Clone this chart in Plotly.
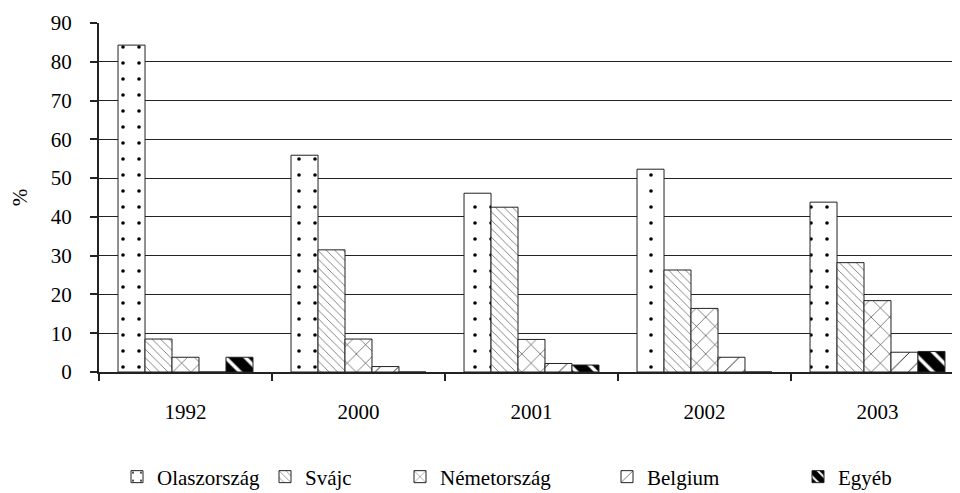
import plotly.graph_objects as go

years = ["1992", "2000", "2001", "2002", "2003"]
olasz = [84.3, 55.9, 46.1, 52.3, 43.8]
svajc = [8.5, 31.5, 42.5, 26.3, 28.2]
nemet = [3.8, 8.5, 8.4, 16.4, 18.4]
belgium = [0, 1.4, 2.2, 3.8, 5.1]
egyeb = [3.8, 0, 1.8, 0, 5.3]

series = [
    ("Olaszország", olasz, dict(shape=".", size=16, solidity=0.04, fgcolor="#000", bgcolor="white", fgopacity=1)),
    ("Svájc", svajc, dict(shape="\\", size=6, solidity=0.1, fgcolor="#333", bgcolor="white", fgopacity=1)),
    ("Németország", nemet, dict(shape="x", size=13, solidity=0.08, fgcolor="#111", bgcolor="white", fgopacity=1)),
    ("Belgium", belgium, dict(shape="/", size=13, solidity=0.07, fgcolor="#111", bgcolor="white", fgopacity=1)),
    ("Egyéb", egyeb, dict(shape="\\", size=14, solidity=0.75, fgcolor="#000", bgcolor="white", fgopacity=1)),
]
# legend left edges in page pixels
legend_x_px = [117, 265, 400, 607, 798]

OFF = 8  # page body margin
W, H = 960 - OFF, 493 - OFF
FONT = "Liberation Serif"
fig = go.Figure()
for i, (name, vals, pat) in enumerate(series):
    fig.add_trace(go.Bar(
        x=years, y=vals, name=name,
        marker=dict(color="white", pattern=pat, line=dict(color="#222", width=1)),
        legend="legend" if i == 0 else f"legend{i+1}",
    ))

legend_common = dict(orientation="h", xref="container", yref="container",
                     xanchor="left", yanchor="middle", y=(493 - 477) / H,
                     font=dict(family=FONT, size=21, color="black"),
                     bgcolor="rgba(0,0,0,0)", borderwidth=0)
layout_legends = {}
for i, px in enumerate(legend_x_px):
    key = "legend" if i == 0 else f"legend{i+1}"
    layout_legends[key] = dict(legend_common, x=(px - OFF) / W)

fig.update_layout(
    width=W, height=H,
    margin=dict(l=99 - OFF, r=0, t=23 - OFF, b=493 - 372, autoexpand=False),
    paper_bgcolor="white", plot_bgcolor="white",
    barmode="group", bargap=0.22, bargroupgap=0,
    font=dict(family=FONT, size=21, color="black"),
    showlegend=True,
    **layout_legends,
)
fig.update_xaxes(
    type="category", range=[-0.5, -0.5 + 861 / 173],
    showline=True, linecolor="#222", linewidth=2,
    ticks="outside", tickson="boundaries", ticklen=7, tickwidth=2, tickcolor="#222",
    ticklabelstandoff=20, showgrid=False,
    tickfont=dict(family=FONT, size=21, color="black"),
)
fig.update_yaxes(
    range=[0, 90], dtick=10, tick0=0,
    showline=True, linecolor="#222", linewidth=2,
    ticks="outside", ticklen=7, tickwidth=2, tickcolor="#222",
    ticklabelstandoff=14,
    showgrid=True, gridcolor="#222", gridwidth=1.3,
    zeroline=False,
    title=dict(text="%", standoff=26, font=dict(family=FONT, size=21, color="black")),
    tickfont=dict(family=FONT, size=21, color="black"),
)
fig.write_html("out.html")
